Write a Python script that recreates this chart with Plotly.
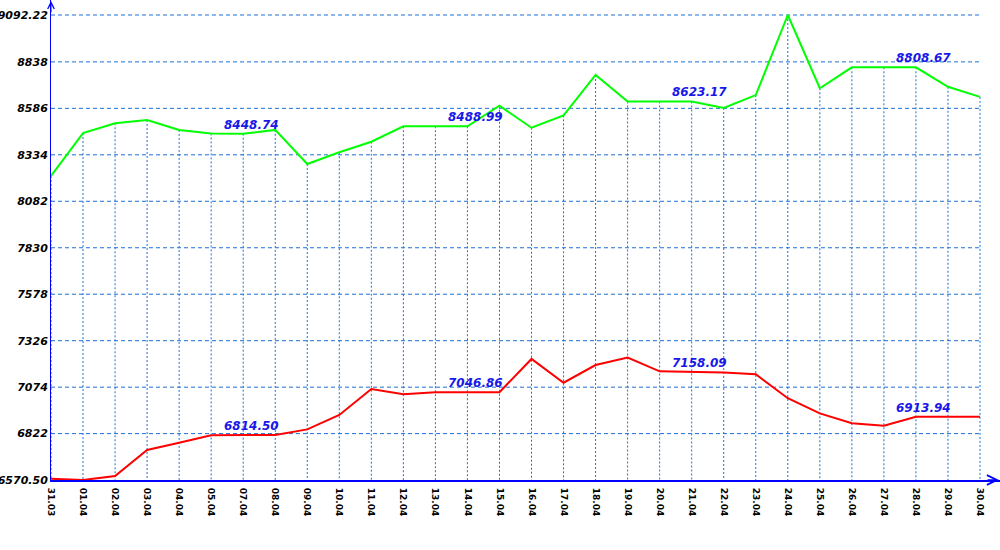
import plotly.graph_objects as go

# ---- data ----
categories = ["31.03", "01.04", "02.04", "03.04", "04.04", "05.04", "07.04", "08.04",
              "09.04", "10.04", "11.04", "12.04", "13.04", "14.04", "15.04", "16.04",
              "17.04", "18.04", "19.04", "20.04", "21.04", "22.04", "23.04", "24.04",
              "25.04", "26.04", "27.04", "28.04", "29.04", "30.04"]

green_values = [8219, 8452, 8505, 8523, 8469, 8450, 8448.74, 8469, 8284, 8348,
                8405, 8488.99, 8488.99, 8488.99, 8600, 8481, 8548, 8767, 8623.17, 8623.17,
                8623.17, 8588, 8658, 9092.22, 8695, 8808.67, 8808.67, 8808.67, 8703, 8648]

red_values = [6577, 6570.50, 6592, 6733, 6773, 6813, 6814.50, 6815, 6845, 6923,
              7064, 7035, 7046, 7046.86, 7046.86, 7227, 7098, 7194, 7234, 7160,
              7158.09, 7154, 7144, 7014, 6932, 6878, 6865, 6913.94, 6913.94, 6913.94]

label_indices = [6, 13, 20, 27]

y_tick_values = [6570.50, 6822, 7074, 7326, 7578, 7830, 8082, 8334, 8586, 8838, 9092.22]
y_tick_labels = ["6570.50", "6822", "7074", "7326", "7578", "7830", "8082", "8334",
                 "8586", "8838", "9092.22"]

# ---- style ----
FONT = "DejaVu Sans"
GRID = "#1c6fd6"
AXIS = "#0000ff"
LABEL = "#1818e8"

y_min = y_tick_values[0]
y_max = y_tick_values[-1]
y_top = y_max + 15 * (y_max - y_min) / 465.0
x_right = 949 / (929 / 29.0)

fig = go.Figure()

# horizontal dashed grid lines (from tick values)
gx, gy = [], []
for t in y_tick_values[1:]:
    gx += [categories[0], categories[-1], None]
    gy += [t, t, None]
fig.add_trace(go.Scatter(x=gx, y=gy, mode="lines",
                         line=dict(color=GRID, width=1, dash="4px,3px"),
                         hoverinfo="skip", connectgaps=False))

# vertical dotted drop lines from the green series down to the axis
vx, vy = [], []
for c, v in zip(categories, green_values):
    vx += [c, c, None]
    vy += [v, y_min, None]
fig.add_trace(go.Scatter(x=vx, y=vy, mode="lines",
                         line=dict(color=GRID, width=1, dash="2px,2px"),
                         hoverinfo="skip", connectgaps=False))

fig.add_trace(go.Scatter(x=categories, y=green_values, mode="lines",
                         line=dict(color="#00ff00", width=2)))
fig.add_trace(go.Scatter(x=categories, y=red_values, mode="lines",
                         line=dict(color="#ff0000", width=2)))

for series in (green_values, red_values):
    for i in label_indices:
        # numeric category index, so "07.04" is not read as the number 7.04
        fig.add_annotation(x=i, y=series[i], text=f"{series[i]:.2f}",
                           showarrow=False, xshift=8, yshift=9,
                           font=dict(family=FONT, size=12, color=LABEL,
                                     weight="bold", style="italic"))

# axis arrowheads
fig.add_annotation(xref="paper", yref="paper", x=0, y=1, ax=0, ay=14,
                   showarrow=True, arrowhead=5, arrowsize=1.3, arrowwidth=1,
                   arrowcolor=AXIS, text="")
fig.add_annotation(xref="paper", yref="paper", x=1, y=0, ax=-14, ay=0,
                   showarrow=True, arrowhead=5, arrowsize=1.3, arrowwidth=1.5,
                   arrowcolor=AXIS, text="")

fig.update_layout(
    width=1000, height=550,
    margin=dict(l=51, r=0, t=0, b=70),
    plot_bgcolor="white", paper_bgcolor="white",
    showlegend=False,
    xaxis=dict(type="category", categoryorder="array", categoryarray=categories,
               range=[0, x_right], showgrid=False, zeroline=False,
               showline=True, linecolor=AXIS, linewidth=2,
               tickangle=90, ticks="", automargin=False, ticklabelstandoff=4,
               tickfont=dict(family=FONT, size=9, color="black", weight="bold")),
    yaxis=dict(range=[y_min, y_top], tickvals=y_tick_values, ticktext=y_tick_labels,
               showgrid=False, zeroline=False, showline=True, linecolor=AXIS,
               linewidth=1, ticks="", automargin=False,
               tickfont=dict(family=FONT, size=11, color="black",
                             weight="bold", style="italic")),
)

fig.write_html("out.html")
